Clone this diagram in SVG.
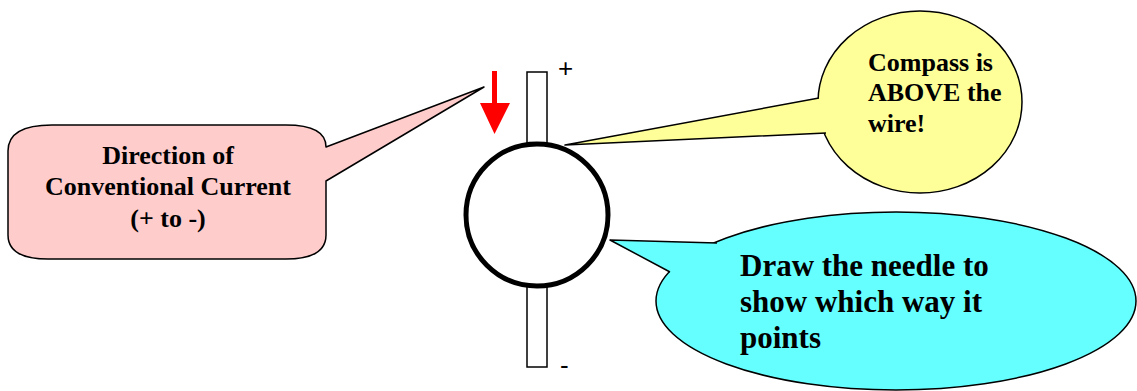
<svg xmlns="http://www.w3.org/2000/svg" width="1137" height="391" viewBox="0 0 1137 391">
<style>
.lbl{font-family:"Liberation Serif","Times New Roman",serif;font-weight:bold;fill:#000}
.sign{font-family:"Liberation Sans",Arial,sans-serif;font-size:26px;fill:#000}
.edge{fill:none;stroke:#000;stroke-width:1.5;stroke-linejoin:round}
</style>
<rect width="1137" height="391" fill="#fff"/>
<g id="wire">
<rect x="527" y="72" width="20" height="295" fill="#fff" stroke="#000" stroke-width="1.5"/>
<text class="sign" x="558" y="77">+</text>
<text class="sign" x="560" y="374">-</text>
</g>
<g id="compass">
<circle cx="537" cy="215" r="71" fill="#fff" stroke="#000" stroke-width="5"/>
</g>
<g id="current-arrow">
<polygon points="492,71 497,71 497,103 510,103 494.5,134 480,103 492,103" fill="#f00"/>
</g>
<g id="callout-current">
<path d="M52,125 L286,125 Q326,125 326,147 L484,87 L326,181 L326,235 Q326,259 286,259 L48,259 Q8,259 8,235 L8,151 Q8,125 52,125 Z" fill="#ffcccc" stroke="#000" stroke-width="1.5" stroke-linejoin="round"/>
<text class="lbl" font-size="26" text-anchor="middle"><tspan x="168" y="164">Direction of</tspan><tspan x="168" y="195">Conventional Current</tspan><tspan x="168" y="227">(+ to -)</tspan></text>
</g>
<g id="callout-above">
<ellipse cx="920" cy="102" rx="102" ry="91" fill="#ffff99" stroke="#000" stroke-width="1.5"/>
<polygon points="819,98 565,145 826,133 860,115" fill="#ffff99"/>
<polyline class="edge" points="819,98 565,145 826,133"/>
<text class="lbl" font-size="26"><tspan x="868" y="71">Compass is</tspan><tspan x="868" y="101">ABOVE the</tspan><tspan x="868" y="132">wire!</tspan></text>
</g>
<g id="callout-needle">
<ellipse cx="896" cy="301" rx="240" ry="89" fill="#66ffff" stroke="#000" stroke-width="1.5"/>
<polygon points="717,243 610,240 670,272 720,270" fill="#66ffff"/>
<polyline class="edge" points="717,243 610,240 670,272"/>
<text class="lbl" font-size="31"><tspan x="740" y="276">Draw the needle to</tspan><tspan x="740" y="312">show which way it</tspan><tspan x="740" y="348">points</tspan></text>
</g>
</svg>
